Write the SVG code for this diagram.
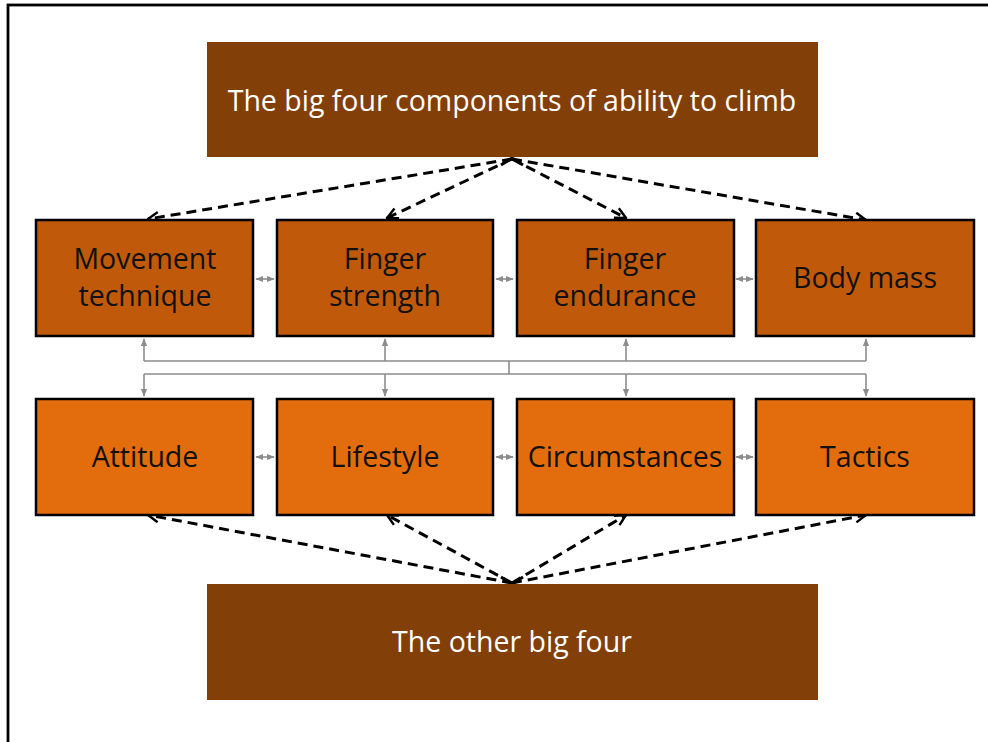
<svg xmlns="http://www.w3.org/2000/svg" width="988" height="742" viewBox="0 0 988 742">
<style>
.frame{fill:none;stroke:#000;stroke-width:2.8}
.big{fill:#833F08}
.r1{fill:#C05A0A;stroke:#000;stroke-width:2.5}
.r2{fill:#E36C0C;stroke:#000;stroke-width:2.5}
text{font-family:"Open Sans","Liberation Sans",sans-serif;font-size:28.5px;text-anchor:middle}
.w{fill:#fff}
.k{fill:#111}
.dash{fill:none;stroke:#000;stroke-width:3;stroke-dasharray:10 6}
.grey{fill:none;stroke:#8C8C8C;stroke-width:1.6}
</style>
<defs>
<marker id="open" viewBox="0 0 10 10" refX="9" refY="5" markerWidth="4.5" markerHeight="4.5" orient="auto" markerUnits="strokeWidth">
<path d="M1,1 L9,5 L1,9" fill="none" stroke="#000" stroke-width="1.8"/>
</marker>
<marker id="g" viewBox="0 0 10 10" refX="9" refY="5" markerWidth="5" markerHeight="5" orient="auto-start-reverse" markerUnits="strokeWidth">
<path d="M0,1 L10,5 L0,9 Z" fill="#8C8C8C"/>
</marker>
</defs>
<rect class="frame" x="8" y="5" width="1000" height="760"/>
<g id="connectors">
<path class="dash" d="M512,159 L148,219" marker-end="url(#open)"/>
<path class="dash" d="M512,159 L387,218" marker-end="url(#open)"/>
<path class="dash" d="M512,159 L626,218" marker-end="url(#open)"/>
<path class="dash" d="M512,159 L866,220" marker-end="url(#open)"/>
<path fill="none" stroke="#000" stroke-width="3" d="M501,165 L512,158 L523,165"/>
<path class="dash" d="M512,583 L148,515" marker-end="url(#open)"/>
<path class="dash" d="M512,583 L387,515" marker-end="url(#open)"/>
<path class="dash" d="M512,583 L626,515" marker-end="url(#open)"/>
<path class="dash" d="M512,583 L866,515" marker-end="url(#open)"/>
<path fill="none" stroke="#000" stroke-width="3" d="M501,577 L512,584 L523,577"/>
<path class="grey" d="M256,279 L274,279" marker-start="url(#g)" marker-end="url(#g)"/>
<path class="grey" d="M496,279 L513,279" marker-start="url(#g)" marker-end="url(#g)"/>
<path class="grey" d="M736,279 L753,279" marker-start="url(#g)" marker-end="url(#g)"/>
<path class="grey" d="M256,457 L274,457" marker-start="url(#g)" marker-end="url(#g)"/>
<path class="grey" d="M496,457 L513,457" marker-start="url(#g)" marker-end="url(#g)"/>
<path class="grey" d="M736,457 L753,457" marker-start="url(#g)" marker-end="url(#g)"/>
<path class="grey" d="M144,361 L866,361 M509,361 L509,374 M144,374 L866,374"/>
<path class="grey" d="M144,361 L144,339" marker-end="url(#g)"/>
<path class="grey" d="M385,361 L385,339" marker-end="url(#g)"/>
<path class="grey" d="M626,361 L626,339" marker-end="url(#g)"/>
<path class="grey" d="M866,361 L866,339" marker-end="url(#g)"/>
<path class="grey" d="M144,374 L144,396" marker-end="url(#g)"/>
<path class="grey" d="M385,374 L385,396" marker-end="url(#g)"/>
<path class="grey" d="M626,374 L626,396" marker-end="url(#g)"/>
<path class="grey" d="M866,374 L866,396" marker-end="url(#g)"/>
</g>
<g id="top">
<rect class="big" x="207" y="42" width="611" height="115"/>
<text class="w" x="512" y="111">The big four components of ability to climb</text>
</g>
<g id="movement">
<rect class="r1" x="36" y="220" width="217" height="116"/>
<text class="k" x="145" y="269">Movement</text>
<text class="k" x="145" y="306">technique</text>
</g>
<g id="fstrength">
<rect class="r1" x="277" y="220" width="216" height="116"/>
<text class="k" x="385" y="269">Finger</text>
<text class="k" x="385" y="306">strength</text>
</g>
<g id="fendurance">
<rect class="r1" x="517" y="220" width="217" height="116"/>
<text class="k" x="625" y="269">Finger</text>
<text class="k" x="625" y="306">endurance</text>
</g>
<g id="bodymass">
<rect class="r1" x="756" y="220" width="218" height="116"/>
<text class="k" x="865" y="288">Body mass</text>
</g>
<g id="attitude">
<rect class="r2" x="36" y="399" width="217" height="116"/>
<text class="k" x="145" y="467">Attitude</text>
</g>
<g id="lifestyle">
<rect class="r2" x="277" y="399" width="216" height="116"/>
<text class="k" x="385" y="467">Lifestyle</text>
</g>
<g id="circumstances">
<rect class="r2" x="517" y="399" width="217" height="116"/>
<text class="k" x="625" y="467">Circumstances</text>
</g>
<g id="tactics">
<rect class="r2" x="756" y="399" width="218" height="116"/>
<text class="k" x="865" y="467">Tactics</text>
</g>
<g id="bottom">
<rect class="big" x="207" y="584" width="611" height="116"/>
<text class="w" x="512" y="652">The other big four</text>
</g>
</svg>
